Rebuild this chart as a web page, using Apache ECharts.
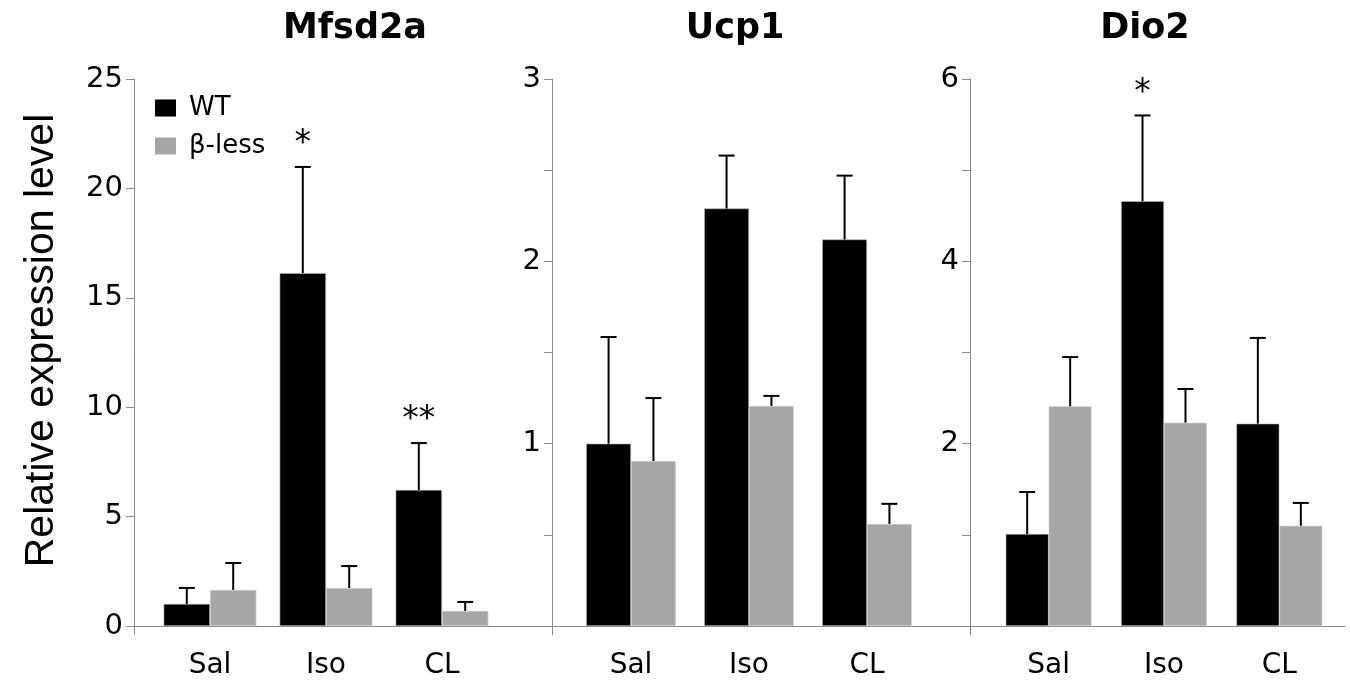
<!DOCTYPE html>
<html>
<head>
<meta charset="utf-8">
<script src="https://cdn.jsdelivr.net/npm/echarts@6/dist/echarts.min.js"></script>
<style>
html,body{margin:0;padding:0;background:#fff;}
#chart{width:1350px;height:684px;}
</style>
</head>
<body>
<div id="chart"></div>
<script>
// ---- Data ----
const categories = ['Sal', 'Iso', 'CL'];
const panelTitles = ['Mfsd2a', 'Ucp1', 'Dio2'];
const seriesNames = ['WT', 'β-less'];

const mfsd2aWT = [1.01, 16.13, 6.22];
const mfsd2aWTErr = [0.73, 4.85, 2.14];
const mfsd2aBL = [1.65, 1.74, 0.69];
const mfsd2aBLErr = [1.23, 1.00, 0.41];
const mfsd2aSig = ['', '*', '**'];

const ucp1WT = [1.00, 2.29, 2.12];
const ucp1WTErr = [0.585, 0.29, 0.35];
const ucp1BL = [0.905, 1.207, 0.56];
const ucp1BLErr = [0.345, 0.055, 0.11];
const ucp1Sig = ['', '', ''];

const dio2WT = [1.01, 4.66, 2.22];
const dio2WTErr = [0.46, 0.94, 0.94];
const dio2BL = [2.41, 2.23, 1.10];
const dio2BLErr = [0.54, 0.37, 0.25];
const dio2Sig = ['', '*', ''];

const yMax = [25, 3, 6];
const yInterval = [5, 0.5, 1];

// ---- Layout ----
const panels = [
  {wt: mfsd2aWT, wtErr: mfsd2aWTErr, bl: mfsd2aBL, blErr: mfsd2aBLErr, sig: mfsd2aSig,
   axisX: 134, gridLeft: 152, gridWidth: 348, frameWidth: 418, gap: 0.20, titleX: 355,
   fmt: v => String(v)},
  {wt: ucp1WT, wtErr: ucp1WTErr, bl: ucp1BL, blErr: ucp1BLErr, sig: ucp1Sig,
   axisX: 552, gridLeft: 572, gridWidth: 354, frameWidth: 418, gap: 0.24, titleX: 735,
   fmt: v => (v >= 1 && Number.isInteger(v)) ? String(v) : ''},
  {wt: dio2WT, wtErr: dio2WTErr, bl: dio2BL, blErr: dio2BLErr, sig: dio2Sig,
   axisX: 970, gridLeft: 991, gridWidth: 346, frameWidth: 375, gap: 0.255, titleX: 1145,
   fmt: v => (v >= 2 && v % 2 === 0) ? String(v) : ''}
];

const TOP = 79, BOTTOM = 58;
const AXIS_COLOR = '#8a8a8a';
const FONT = 'DejaVu Sans';
const BLACK = '#000000', GRAY = '#a6a6a6';

const grids = [], xAxes = [], yAxes = [], series = [], graphics = [];

function errRender(sign, gap, sig) {
  return function (params, api) {
    const ci = api.value(0), v = api.value(1), e = api.value(2);
    const band = api.size([1, 0])[0];
    const off = sign * band * (1 - gap) / 4;
    const base = api.coord([ci, v]);
    const top = api.coord([ci, v + e]);
    const x = base[0] + off;
    const children = [
      {type: 'line', shape: {x1: x, y1: base[1], x2: x, y2: top[1]}, style: {stroke: '#000', lineWidth: 2}},
      {type: 'line', shape: {x1: x - 8, y1: top[1], x2: x + 8, y2: top[1]}, style: {stroke: '#000', lineWidth: 2}}
    ];
    const s = sig ? sig[params.dataIndex] : '';
    if (s) {
      children.push({type: 'text', x: x, y: top[1] - 6,
        style: {text: s, fill: '#000', font: '33px "DejaVu Sans"', align: 'center', verticalAlign: 'bottom',
                textAlign: 'center', textVerticalAlign: 'bottom'}});
    }
    return {type: 'group', children: children};
  };
}

panels.forEach((p, i) => {
  // bar grid
  grids.push({left: p.gridLeft, width: p.gridWidth, top: TOP, bottom: BOTTOM, containLabel: false});
  xAxes.push({
    gridIndex: i, type: 'category', data: categories,
    axisLine: {show: false}, axisTick: {show: false},
    axisLabel: {fontFamily: FONT, fontSize: 28, color: '#000', margin: 26}
  });
  yAxes.push({
    gridIndex: i, type: 'value', min: 0, max: yMax[i], interval: yInterval[i],
    offset: p.gridLeft - p.axisX,
    axisLine: {show: true, lineStyle: {color: AXIS_COLOR, width: 1}},
    axisTick: {show: true, length: 8, lineStyle: {color: AXIS_COLOR}},
    axisLabel: {fontFamily: FONT, fontSize: 29, color: '#000', margin: 11, formatter: p.fmt},
    splitLine: {show: false},
    name: i === 0 ? 'Relative expression level' : '',
    nameLocation: 'middle', nameRotate: 90, nameGap: 72,
    nameTextStyle: {fontFamily: 'Liberation Sans', fontSize: 41, color: '#000', padding: [0, 0, 0, 24]}
  });
  const wtErrData = p.wt.map((v, k) => [k, v, p.wtErr[k]]);
  const blErrData = p.bl.map((v, k) => [k, v, p.blErr[k]]);
  series.push({
    name: seriesNames[0], type: 'bar', xAxisIndex: i, yAxisIndex: i, data: p.wt,
    barGap: '0%', barCategoryGap: (p.gap * 100) + '%',
    itemStyle: {color: BLACK, borderColor: '#bdbdbd', borderWidth: 0.6}, silent: true
  });
  series.push({
    name: seriesNames[1], type: 'bar', xAxisIndex: i, yAxisIndex: i, data: p.bl,
    barGap: '0%', barCategoryGap: (p.gap * 100) + '%',
    itemStyle: {color: GRAY, borderColor: '#d9d9d9', borderWidth: 0.6}, silent: true
  });
  series.push({
    type: 'custom', xAxisIndex: i, yAxisIndex: i, data: wtErrData, z: 5,
    renderItem: errRender(-1, p.gap, p.sig), silent: true
  });
  series.push({
    type: 'custom', xAxisIndex: i, yAxisIndex: i, data: blErrData, z: 5,
    renderItem: errRender(1, p.gap, null), silent: true
  });
  graphics.push({
    type: 'text', x: p.titleX, y: 29,
    style: {text: panelTitles[i], fill: '#000', font: 'bold 35px "DejaVu Sans"',
            align: 'center', verticalAlign: 'middle', textAlign: 'center', textVerticalAlign: 'middle'}
  });
});

// frame grids: continuous x-axis line with ticks at each panel's y-axis
panels.forEach((p, i) => {
  const gi = grids.length;
  grids.push({left: p.axisX, width: p.frameWidth, top: TOP, bottom: BOTTOM});
  xAxes.push({
    gridIndex: gi, type: 'value', min: 0, max: 1,
    axisLine: {show: true, lineStyle: {color: AXIS_COLOR, width: 1}},
    axisTick: {show: true, length: 9, customValues: [0], lineStyle: {color: AXIS_COLOR}},
    axisLabel: {show: false}, splitLine: {show: false}
  });
  yAxes.push({gridIndex: gi, type: 'value', min: 0, max: 1, show: false});
});

const chart = echarts.init(document.getElementById('chart'), null, {renderer: 'canvas'});
chart.setOption({
  animation: false,
  backgroundColor: '#ffffff',
  grid: grids,
  xAxis: xAxes,
  yAxis: yAxes,
  legend: {
    data: seriesNames, orient: 'vertical', left: 155, top: 95, padding: 0,
    icon: 'rect', itemWidth: 21, itemHeight: 17, itemGap: 12,
    itemStyle: {borderWidth: 0},
    textStyle: {fontFamily: FONT, fontSize: 26, color: '#000', padding: [0, 0, 0, 8]},
    selectedMode: false
  },
  series: series,
  graphic: graphics
});
</script>
</body>
</html>
